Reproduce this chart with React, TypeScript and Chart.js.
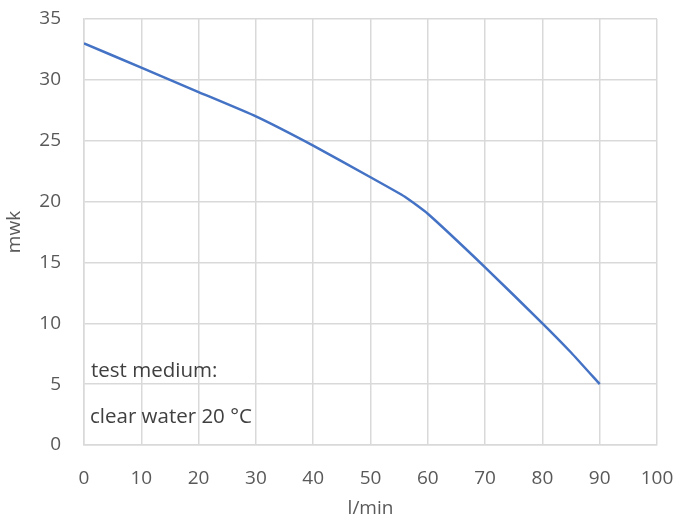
import React, { useEffect, useRef } from "react";
import { Chart, registerables } from "chart.js";

Chart.register(...registerables);

const flowLpm = [0, 10, 20, 30, 40, 50, 56, 60, 70, 80, 85, 90];
const headMwk = [33, 31, 29, 27, 24.6, 22, 20.4, 19, 14.6, 10, 7.6, 5];
const xTitle = "l/min";
const yTitle = "mwk";
const noteLines = ["test medium:", "clear water 20 °C"];

const FONT = "'Open Sans', 'Noto Sans', sans-serif";

const notePlugin = {
  id: "notePlugin",
  afterDraw(chart: any) {
    const { ctx, chartArea } = chart;
    ctx.save();
    ctx.font = `20.5px ${FONT}`;
    ctx.fillStyle = "#404040";
    ctx.textAlign = "left";
    ctx.textBaseline = "alphabetic";
    ctx.fillText(noteLines[0], chartArea.left + 7, chartArea.bottom - 68);
    ctx.fillText(noteLines[1], chartArea.left + 6, chartArea.bottom - 22);
    ctx.restore();
  },
};

export default function App() {
  const ref = useRef<HTMLCanvasElement>(null);
  useEffect(() => {
    document.body.style.margin = "0";
    const tickFont = { family: FONT, size: 19 };
    const chart = new Chart(ref.current!, {
      type: "scatter",
      data: {
        datasets: [
          {
            data: flowLpm.map((x, i) => ({ x, y: headMwk[i] })),
            showLine: true,
            borderColor: "#4472C4",
            borderWidth: 2.5,
            pointRadius: 0,
            tension: 0.15,
          },
        ],
      },
      options: {
        animation: false,
        responsive: false,
        layout: { padding: 0 },
        plugins: { legend: { display: false }, tooltip: { enabled: false } },
        scales: {
          x: {
            type: "linear",
            min: 0,
            max: 100,
            ticks: { stepSize: 10, color: "#595959", font: tickFont, padding: 22 },
            grid: { color: "#d9d9d9", lineWidth: 1.5, drawTicks: false },
            border: { color: "#d9d9d9", width: 1.5 },
            title: { display: true, text: xTitle, color: "#595959", font: tickFont, padding: { top: 0, bottom: 4 } },
            afterFit: (s: any) => {
              s.height = 79;
              s.paddingRight = 20;
              s.paddingLeft = 0;
            },
          },
          y: {
            min: 0,
            max: 35,
            ticks: { stepSize: 5, color: "#595959", font: tickFont, padding: 23 },
            grid: { color: "#d9d9d9", lineWidth: 1.5, drawTicks: false },
            border: { color: "#d9d9d9", width: 1.5 },
            title: { display: true, text: yTitle, color: "#595959", font: tickFont, padding: { top: 3, bottom: 0 } },
            afterFit: (s: any) => {
              s.width = 84;
              s.paddingTop = 19;
              s.paddingBottom = 0;
            },
          },
        },
      },
      plugins: [notePlugin],
    });
    return () => chart.destroy();
  }, []);
  return (
    <div style={{ position: "fixed", left: 0, top: 0, width: 677, height: 524 }}>
      <canvas ref={ref} width={677} height={524} />
    </div>
  );
}
